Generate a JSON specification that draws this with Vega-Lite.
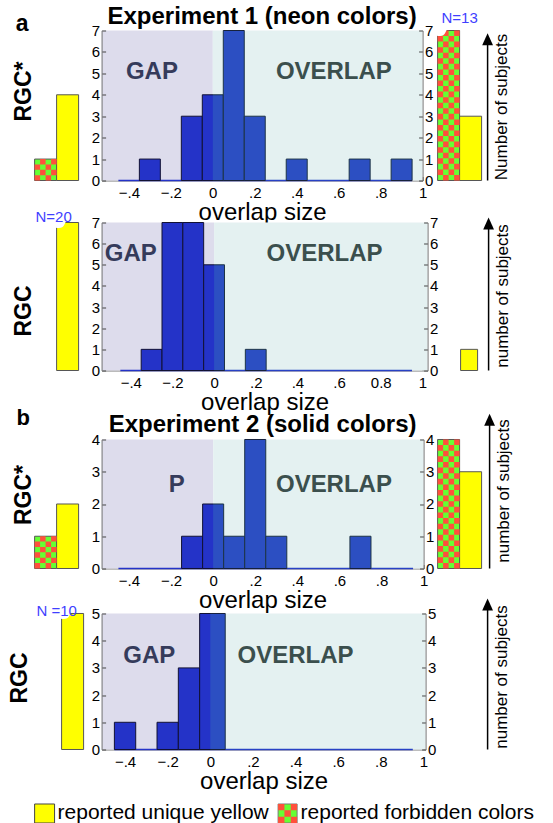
{
  "$schema": "https://vega.github.io/schema/vega-lite/v6.json",
  "padding": {"left": 8.6, "top": 4.5, "right": 0, "bottom": 0},
  "bounds": "flush",
  "align": "each",
  "columns": 3,
  "spacing": {"row": 42, "column": 0},
  "config": {
    "font": "Liberation Sans",
    "view": {"stroke": null},
    "axis": {"grid": false, "labelFlush": false, "labelOverlap": false, "labelFont": "Liberation Sans", "titleFont": "Liberation Sans", "labelColor": "#000", "titleColor": "#000"},
    "axisX": {"values": [-0.4, -0.2, 0, 0.2, 0.4, 0.6, 0.8, 1], "labelExpr": "datum.value == 0 ? '0' : datum.value == 1 ? '1' : replace(format(datum.value, '.1f'), '0.', '.')", "labelFontSize": 15, "tickSize": -4, "labelPadding": 9, "tickColor": "#444", "domainColor": "#777", "titleFontSize": 24, "titleFontWeight": "normal", "titlePadding": 0, "zindex": 1},
    "title": {"font": "Liberation Sans", "fontSize": 24, "fontWeight": "bold", "color": "#000"}
  },
  "concat": [
    {
      "width": 67, "height": 150,
      "resolve": {"axis": {"y": "independent"}},
      "data": {"values": [{"report": "forbidden colors", "subjects": 1}, {"report": "unique yellow", "subjects": 4}]},
      "layer": [
        {"mark": {"type": "bar", "stroke": "#555", "strokeWidth": 1},
         "encoding": {
           "x": {"field": "report", "type": "nominal", "scale": {"domain": ["forbidden colors", "unique yellow"], "range": [0, 44], "paddingInner": 0, "paddingOuter": 0}, "axis": null},
           "y": {"field": "subjects", "type": "quantitative", "scale": {"domain": [0, 7], "nice": false}, "axis": {"orient": "left", "title": "RGC*", "titleFontSize": 23, "titleFontWeight": "bold", "domain": false, "ticks": false, "labels": false, "titleX": -4, "titleY": 60.5, "titleBaseline": "alphabetic", "titleAngle": 270, "titleAlign": "center"}},
           "color": {"field": "report", "type": "nominal", "scale": {"domain": ["forbidden colors", "unique yellow"], "range": ["#66FF33", "#FFFF00"]}, "legend": null}}},
        {"transform": [{"filter": "datum.report == 'forbidden colors'"}],
         "mark": {"type": "point", "shape": "M-1,0h1v0.975h-1zM1,0h1v0.975h-1zM-2,0.975h1v0.975h-1zM0,0.975h1v0.975h-1zM-1,1.95h1v0.975h-1zM1,1.95h1v0.975h-1zM-2,2.925h1v0.975h-1zM0,2.925h1v0.975h-1z", "size": 121, "filled": true, "color": "#FF503C", "opacity": 1},
         "encoding": {"x": {"field": "report", "type": "nominal", "axis": null}, "y": {"field": "subjects", "type": "quantitative", "axis": null}}},
        {"data": {"values": [{}]},
         "mark": {"type": "text", "text": "a", "fontSize": 23, "fontWeight": "bold", "baseline": "alphabetic", "dx": -23.5, "color": "#000"},
         "encoding": {"x": {"datum": "forbidden colors", "type": "nominal", "axis": null}, "y": {"datum": 7, "type": "quantitative", "axis": null}}}
      ]
    },
    {
      "width": 321, "height": 150,
      "title": {"text": "Experiment 1 (neon colors)", "frame": "group", "offset": -5.5, "anchor": "middle"},
      "resolve": {"axis": {"x": "independent", "y": "independent"}},
      "layer": [
        {"data": {"values": [{}]}, "mark": {"type": "rect", "fill": "#DDDCEC"},
         "encoding": {
           "x": {"datum": -0.53, "type": "quantitative", "scale": {"domain": [-0.53, 1.0], "nice": false, "zero": false}, "axis": {"title": "overlap size"}},
           "x2": {"datum": 0},
           "y": {"datum": 0, "type": "quantitative", "scale": {"domain": [0, 7], "nice": false}, "axis": {"orient": "left", "values": [0, 1, 2, 3, 4, 5, 6, 7], "labelFontSize": 15, "tickSize": -4, "labelPadding": 6, "tickColor": "#444", "domainColor": "#777", "title": null, "zindex": 1}},
           "y2": {"datum": 7}}},
        {"data": {"values": [{}]}, "mark": {"type": "rect", "fill": "#FFF4FF"},
         "encoding": {"x": {"datum": 0, "type": "quantitative", "axis": null}, "x2": {"datum": 1.0}, "y": {"datum": 0, "type": "quantitative", "axis": null}, "y2": {"datum": 7}}},
        {"data": {"values": [{}]}, "mark": {"type": "rule", "color": "#2433C8", "strokeWidth": 1.5},
         "encoding": {"x": {"datum": -0.45, "type": "quantitative", "axis": null}, "x2": {"datum": 0.95}, "y": {"datum": 0, "type": "quantitative", "axis": null}}},
        {"data": {"values": [
           {"bin_start": -0.35, "bin_end": -0.25, "subjects": 1},
           {"bin_start": -0.15, "bin_end": -0.05, "subjects": 3},
           {"bin_start": -0.05, "bin_end": 0.05, "subjects": 4},
           {"bin_start": 0.05, "bin_end": 0.15, "subjects": 7},
           {"bin_start": 0.15, "bin_end": 0.25, "subjects": 3},
           {"bin_start": 0.35, "bin_end": 0.45, "subjects": 1},
           {"bin_start": 0.65, "bin_end": 0.75, "subjects": 1},
           {"bin_start": 0.85, "bin_end": 0.95, "subjects": 1}]},
         "mark": {"type": "rect", "fill": "#2433C8", "stroke": "#111133", "strokeWidth": 1},
         "encoding": {"x": {"field": "bin_start", "type": "quantitative", "axis": null}, "x2": {"field": "bin_end"}, "y": {"field": "subjects", "type": "quantitative", "axis": null}, "y2": {"datum": 0}}},
        {"data": {"values": [{}]}, "mark": {"type": "rect", "fill": "#56E8A5", "opacity": 0.16},
         "encoding": {"x": {"datum": 0, "type": "quantitative", "axis": null}, "x2": {"datum": 1.0},
           "y": {"datum": 0, "type": "quantitative", "axis": {"orient": "right", "values": [0, 1, 2, 3, 4, 5, 6, 7], "labelFontSize": 15, "tickSize": -4, "labelPadding": 6, "tickColor": "#444", "domainColor": "#777", "title": null, "zindex": 1}},
           "y2": {"datum": 7}}},
        {"data": {"values": [{}]}, "mark": {"type": "text", "text": "GAP", "fontSize": 24, "fontWeight": "bold", "color": "#353B5B"},
         "encoding": {"x": {"datum": -0.29, "type": "quantitative", "axis": null}, "y": {"datum": 5.05, "type": "quantitative", "axis": null}}},
        {"data": {"values": [{}]}, "mark": {"type": "text", "text": "OVERLAP", "fontSize": 24, "fontWeight": "bold", "color": "#3B4F4D"},
         "encoding": {"x": {"datum": 0.577, "type": "quantitative", "axis": null}, "y": {"datum": 5.05, "type": "quantitative", "axis": null}}}
      ]
    },
    {
      "width": 60, "height": 150,
      "resolve": {"axis": {"y": "independent"}},
      "data": {"values": [{"report": "forbidden colors", "subjects": 7}, {"report": "unique yellow", "subjects": 3}]},
      "layer": [
        {"mark": {"type": "bar", "stroke": "#555", "strokeWidth": 1},
         "encoding": {
           "x": {"field": "report", "type": "nominal", "scale": {"domain": ["forbidden colors", "unique yellow"], "range": [10, 54], "paddingInner": 0, "paddingOuter": 0}, "axis": null},
           "y": {"field": "subjects", "type": "quantitative", "scale": {"domain": [0, 7], "nice": false}, "axis": {"orient": "right", "title": "Number of subjects", "titleFontSize": 17, "titleFontWeight": "normal", "titleAngle": 270, "titleBaseline": "top", "titleAlign": "center", "titleX": 6, "titleY": 76, "domain": false, "ticks": false, "labels": false}},
           "color": {"field": "report", "type": "nominal", "scale": {"domain": ["forbidden colors", "unique yellow"], "range": ["#66FF33", "#FFFF00"]}, "legend": null}}},
        {"transform": [{"filter": "datum.report == 'forbidden colors'"}],
         "mark": {"type": "point", "shape": "M-1,0h1v1.01h-1zM1,0h1v1.01h-1zM-2,1.01h1v1.01h-1zM0,1.01h1v1.01h-1zM-1,2.02h1v1.01h-1zM1,2.02h1v1.01h-1zM-2,3.03h1v1.01h-1zM0,3.03h1v1.01h-1zM-1,4.04h1v1.01h-1zM1,4.04h1v1.01h-1zM-2,5.05h1v1.01h-1zM0,5.05h1v1.01h-1zM-1,6.06h1v1.01h-1zM1,6.06h1v1.01h-1zM-2,7.07h1v1.01h-1zM0,7.07h1v1.01h-1zM-1,8.08h1v1.01h-1zM1,8.08h1v1.01h-1zM-2,9.09h1v1.01h-1zM0,9.09h1v1.01h-1zM-1,10.1h1v1.01h-1zM1,10.1h1v1.01h-1zM-2,11.11h1v1.01h-1zM0,11.11h1v1.01h-1zM-1,12.12h1v1.01h-1zM1,12.12h1v1.01h-1zM-2,13.13h1v1.01h-1zM0,13.13h1v1.01h-1zM-1,14.14h1v1.01h-1zM1,14.14h1v1.01h-1zM-2,15.15h1v1.01h-1zM0,15.15h1v1.01h-1zM-1,16.16h1v1.01h-1zM1,16.16h1v1.01h-1zM-2,17.17h1v1.01h-1zM0,17.17h1v1.01h-1zM-1,18.18h1v1.01h-1zM1,18.18h1v1.01h-1zM-2,19.19h1v1.01h-1zM0,19.19h1v1.01h-1zM-1,20.2h1v1.01h-1zM1,20.2h1v1.01h-1zM-2,21.21h1v1.01h-1zM0,21.21h1v1.01h-1zM-1,22.22h1v1.01h-1zM1,22.22h1v1.01h-1zM-2,23.23h1v1.01h-1zM0,23.23h1v1.01h-1zM-1,24.24h1v1.01h-1zM1,24.24h1v1.01h-1zM-2,25.25h1v1.01h-1zM0,25.25h1v1.01h-1zM-1,26.26h1v1.01h-1zM1,26.26h1v1.01h-1z", "size": 121, "filled": true, "color": "#FF503C", "opacity": 1},
         "encoding": {"x": {"field": "report", "type": "nominal", "axis": null}, "y": {"field": "subjects", "type": "quantitative", "axis": null}}},
        {"data": {"values": [{}]},
         "mark": {"type": "point", "shape": "M-1.15,-0.2L-1.15,0.45C-0.7,0.55-0.45,0.5-0.3,0.2C-0.2,0-0.15,-0.1-0.05,-0.2Z", "size": 484, "filled": true, "color": "#FFFFFF", "opacity": 1},
         "encoding": {"x": {"datum": "forbidden colors", "type": "nominal", "axis": null}, "y": {"datum": 7, "type": "quantitative", "axis": null}}},
        {"data": {"values": [{}]},
         "mark": {"type": "text", "text": "N=13", "fontSize": 15, "color": "#3F3FFF", "dx": 11, "dy": -13},
         "encoding": {"x": {"datum": "forbidden colors", "type": "nominal", "axis": null}, "y": {"datum": 7, "type": "quantitative", "axis": null}}},
        {"data": {"values": [{}]}, "mark": {"type": "rule", "color": "#000", "strokeWidth": 1.5},
         "encoding": {"x": {"value": "width"}, "y": {"datum": 0, "type": "quantitative", "axis": null}, "y2": {"datum": 6.6}}},
        {"data": {"values": [{}]}, "mark": {"type": "point", "shape": "M0,0L0.9,2L-0.9,2Z", "size": 144, "filled": true, "color": "#000", "opacity": 1},
         "encoding": {"x": {"value": "width"}, "y": {"datum": 6.87, "type": "quantitative", "axis": null}}}
      ]
    },
    {
      "width": 67, "height": 148,
      "resolve": {"axis": {"y": "independent"}},
      "data": {"values": [{"report": "unique yellow", "subjects": 7}]},
      "layer": [
        {"mark": {"type": "bar", "stroke": "#555", "strokeWidth": 1},
         "encoding": {
           "x": {"field": "report", "type": "nominal", "scale": {"domain": ["forbidden colors", "unique yellow"], "range": [0, 44], "paddingInner": 0, "paddingOuter": 0}, "axis": null},
           "y": {"field": "subjects", "type": "quantitative", "scale": {"domain": [0, 7], "nice": false}, "axis": {"orient": "left", "title": "RGC", "titleFontSize": 23, "titleFontWeight": "bold", "domain": false, "ticks": false, "labels": false, "titleX": -4, "titleY": 88, "titleBaseline": "alphabetic", "titleAngle": 270, "titleAlign": "center"}},
           "color": {"field": "report", "type": "nominal", "scale": {"domain": ["forbidden colors", "unique yellow"], "range": ["#66FF33", "#FFFF00"]}, "legend": null}}},
        {"data": {"values": [{}]},
         "mark": {"type": "point", "shape": "M-1.15,-0.2L-1.15,0.45C-0.7,0.55-0.45,0.5-0.3,0.2C-0.2,0-0.15,-0.1-0.05,-0.2Z", "size": 484, "filled": true, "color": "#FFFFFF", "opacity": 1},
         "encoding": {"x": {"datum": "unique yellow", "type": "nominal", "axis": null}, "y": {"datum": 7, "type": "quantitative", "axis": null}}},
        {"data": {"values": [{}]},
         "mark": {"type": "text", "text": "N=20", "fontSize": 15, "color": "#3F3FFF", "dx": -14, "dy": -6},
         "encoding": {"x": {"datum": "unique yellow", "type": "nominal", "axis": null}, "y": {"datum": 7, "type": "quantitative", "axis": null}}}
      ]
    },
    {
      "width": 326, "height": 148,
      "resolve": {"axis": {"x": "independent", "y": "independent"}},
      "layer": [
        {"data": {"values": [{}]}, "mark": {"type": "rect", "fill": "#DDDCEC"},
         "encoding": {
           "x": {"datum": -0.54, "type": "quantitative", "scale": {"domain": [-0.54, 1.025], "nice": false, "zero": false}, "axis": {"title": "overlap size", "labelExpr": "datum.value == 0 ? '0' : datum.value == 1 ? '1' : datum.value == 0.8 ? '0.8' : replace(format(datum.value, '.1f'), '0.', '.')"}},
           "x2": {"datum": 0},
           "y": {"datum": 0, "type": "quantitative", "scale": {"domain": [0, 7], "nice": false}, "axis": {"orient": "left", "values": [0, 1, 2, 3, 4, 5, 6, 7], "labelFontSize": 15, "tickSize": -4, "labelPadding": 6, "tickColor": "#444", "domainColor": "#777", "title": null, "zindex": 1}},
           "y2": {"datum": 7}}},
        {"data": {"values": [{}]}, "mark": {"type": "rect", "fill": "#FFF4FF"},
         "encoding": {"x": {"datum": 0, "type": "quantitative", "axis": null}, "x2": {"datum": 1.025}, "y": {"datum": 0, "type": "quantitative", "axis": null}, "y2": {"datum": 7}}},
        {"data": {"values": [{}]}, "mark": {"type": "rule", "color": "#2433C8", "strokeWidth": 1.5},
         "encoding": {"x": {"datum": -0.45, "type": "quantitative", "axis": null}, "x2": {"datum": 0.95}, "y": {"datum": 0, "type": "quantitative", "axis": null}}},
        {"data": {"values": [
           {"bin_start": -0.35, "bin_end": -0.25, "subjects": 1},
           {"bin_start": -0.25, "bin_end": -0.15, "subjects": 7},
           {"bin_start": -0.15, "bin_end": -0.05, "subjects": 7},
           {"bin_start": -0.05, "bin_end": 0.05, "subjects": 5},
           {"bin_start": 0.15, "bin_end": 0.25, "subjects": 1}]},
         "mark": {"type": "rect", "fill": "#2433C8", "stroke": "#111133", "strokeWidth": 1},
         "encoding": {"x": {"field": "bin_start", "type": "quantitative", "axis": null}, "x2": {"field": "bin_end"}, "y": {"field": "subjects", "type": "quantitative", "axis": null}, "y2": {"datum": 0}}},
        {"data": {"values": [{}]}, "mark": {"type": "rect", "fill": "#56E8A5", "opacity": 0.16},
         "encoding": {"x": {"datum": 0, "type": "quantitative", "axis": null}, "x2": {"datum": 1.025},
           "y": {"datum": 0, "type": "quantitative", "axis": {"orient": "right", "values": [0, 1, 2, 3, 4, 5, 6, 7], "labelFontSize": 15, "tickSize": -4, "labelPadding": 6, "tickColor": "#444", "domainColor": "#777", "title": null, "zindex": 1}},
           "y2": {"datum": 7}}},
        {"data": {"values": [{}]}, "mark": {"type": "text", "text": "GAP", "fontSize": 24, "fontWeight": "bold", "color": "#353B5B"},
         "encoding": {"x": {"datum": -0.4, "type": "quantitative", "axis": null}, "y": {"datum": 5.49, "type": "quantitative", "axis": null}}},
        {"data": {"values": [{}]}, "mark": {"type": "text", "text": "OVERLAP", "fontSize": 24, "fontWeight": "bold", "color": "#3B4F4D"},
         "encoding": {"x": {"datum": 0.53, "type": "quantitative", "axis": null}, "y": {"datum": 5.49, "type": "quantitative", "axis": null}}}
      ]
    },
    {
      "width": 61, "height": 148,
      "resolve": {"axis": {"y": "independent"}},
      "data": {"values": [{"report": "unique yellow", "subjects": 1}]},
      "layer": [
        {"mark": {"type": "bar", "stroke": "#555", "strokeWidth": 1},
         "encoding": {
           "x": {"field": "report", "type": "nominal", "scale": {"domain": ["forbidden colors", "unique yellow"], "range": [16, 50], "paddingInner": 0, "paddingOuter": 0}, "axis": null},
           "y": {"field": "subjects", "type": "quantitative", "scale": {"domain": [0, 7], "nice": false}, "axis": {"orient": "right", "title": "number of subjects", "titleFontSize": 17, "titleFontWeight": "normal", "titleAngle": 270, "titleBaseline": "top", "titleAlign": "center", "titleX": 6, "titleY": 73, "domain": false, "ticks": false, "labels": false}},
           "color": {"field": "report", "type": "nominal", "scale": {"domain": ["forbidden colors", "unique yellow"], "range": ["#66FF33", "#FFFF00"]}, "legend": null}}},
        {"data": {"values": [{}]}, "mark": {"type": "rule", "color": "#000", "strokeWidth": 1.5},
         "encoding": {"x": {"value": "width"}, "y": {"datum": 0, "type": "quantitative", "axis": null}, "y2": {"datum": 7.0}}},
        {"data": {"values": [{}]}, "mark": {"type": "point", "shape": "M0,0L0.9,2L-0.9,2Z", "size": 144, "filled": true, "color": "#000", "opacity": 1},
         "encoding": {"x": {"value": "width"}, "y": {"datum": 7.24, "type": "quantitative", "axis": null}}}
      ]
    },
    {
      "width": 67, "height": 156,
      "resolve": {"axis": {"y": "independent"}},
      "data": {"values": [{"report": "forbidden colors", "subjects": 1}, {"report": "unique yellow", "subjects": 2}]},
      "layer": [
        {"mark": {"type": "bar", "stroke": "#555", "strokeWidth": 1},
         "encoding": {
           "x": {"field": "report", "type": "nominal", "scale": {"domain": ["forbidden colors", "unique yellow"], "range": [0, 44], "paddingInner": 0, "paddingOuter": 0}, "axis": null},
           "y": {"field": "subjects", "type": "quantitative", "scale": {"domain": [0, 4], "nice": false, "range": [156, 27]}, "axis": {"orient": "left", "title": "RGC*", "titleFontSize": 23, "titleFontWeight": "bold", "domain": false, "ticks": false, "labels": false, "titleX": -4, "titleY": 82, "titleBaseline": "alphabetic", "titleAngle": 270, "titleAlign": "center"}},
           "color": {"field": "report", "type": "nominal", "scale": {"domain": ["forbidden colors", "unique yellow"], "range": ["#66FF33", "#FFFF00"]}, "legend": null}}},
        {"transform": [{"filter": "datum.report == 'forbidden colors'"}],
         "mark": {"type": "point", "shape": "M-1,0h1v0.977h-1zM1,0h1v0.977h-1zM-2,0.977h1v0.977h-1zM0,0.977h1v0.977h-1zM-1,1.954h1v0.977h-1zM1,1.954h1v0.977h-1zM-2,2.931h1v0.977h-1zM0,2.931h1v0.977h-1zM-1,3.908h1v0.977h-1zM1,3.908h1v0.977h-1zM-2,4.885h1v0.977h-1zM0,4.885h1v0.977h-1z", "size": 121, "filled": true, "color": "#FF503C", "opacity": 1},
         "encoding": {"x": {"field": "report", "type": "nominal", "axis": null}, "y": {"field": "subjects", "type": "quantitative", "axis": null}}},
        {"data": {"values": [{}]},
         "mark": {"type": "text", "text": "b", "fontSize": 22, "fontWeight": "bold", "baseline": "alphabetic", "dx": -22.5, "dy": -14, "color": "#000"},
         "encoding": {"x": {"datum": "forbidden colors", "type": "nominal", "axis": null}, "y": {"datum": 4, "type": "quantitative", "axis": null}}}
      ]
    },
    {
      "width": 322, "height": 156,
      "title": {"text": "Experiment 2 (solid colors)", "frame": "group", "offset": 5, "dy": 30, "anchor": "middle"},
      "resolve": {"axis": {"x": "independent", "y": "independent"}},
      "layer": [
        {"data": {"values": [{}]}, "mark": {"type": "rect", "fill": "#DDDCEC"},
         "encoding": {
           "x": {"datum": -0.53, "type": "quantitative", "scale": {"domain": [-0.53, 1.0], "nice": false, "zero": false}, "axis": {"title": "overlap size"}},
           "x2": {"datum": 0},
           "y": {"datum": 0, "type": "quantitative", "scale": {"domain": [0, 4], "nice": false, "range": [156, 27]}, "axis": {"orient": "left", "values": [0, 1, 2, 3, 4], "labelFontSize": 15, "tickSize": -4, "labelPadding": 6, "tickColor": "#444", "domainColor": "#777", "title": null, "zindex": 1}},
           "y2": {"datum": 4}}},
        {"data": {"values": [{}]}, "mark": {"type": "rect", "fill": "#FFF4FF"},
         "encoding": {"x": {"datum": 0, "type": "quantitative", "axis": null}, "x2": {"datum": 1.0}, "y": {"datum": 0, "type": "quantitative", "axis": null}, "y2": {"datum": 4}}},
        {"data": {"values": [{}]}, "mark": {"type": "rule", "color": "#2433C8", "strokeWidth": 1.5},
         "encoding": {"x": {"datum": -0.45, "type": "quantitative", "axis": null}, "x2": {"datum": 0.95}, "y": {"datum": 0, "type": "quantitative", "axis": null}}},
        {"data": {"values": [
           {"bin_start": -0.15, "bin_end": -0.05, "subjects": 1},
           {"bin_start": -0.05, "bin_end": 0.05, "subjects": 2},
           {"bin_start": 0.05, "bin_end": 0.15, "subjects": 1},
           {"bin_start": 0.15, "bin_end": 0.25, "subjects": 4},
           {"bin_start": 0.25, "bin_end": 0.35, "subjects": 1},
           {"bin_start": 0.65, "bin_end": 0.75, "subjects": 1}]},
         "mark": {"type": "rect", "fill": "#2433C8", "stroke": "#111133", "strokeWidth": 1},
         "encoding": {"x": {"field": "bin_start", "type": "quantitative", "axis": null}, "x2": {"field": "bin_end"}, "y": {"field": "subjects", "type": "quantitative", "axis": null}, "y2": {"datum": 0}}},
        {"data": {"values": [{}]}, "mark": {"type": "rect", "fill": "#56E8A5", "opacity": 0.16},
         "encoding": {"x": {"datum": 0, "type": "quantitative", "axis": null}, "x2": {"datum": 1.0},
           "y": {"datum": 0, "type": "quantitative", "axis": {"orient": "right", "values": [0, 1, 2, 3, 4], "labelFontSize": 15, "tickSize": -4, "labelPadding": 6, "tickColor": "#444", "domainColor": "#777", "title": null, "zindex": 1}},
           "y2": {"datum": 4}}},
        {"data": {"values": [{}]}, "mark": {"type": "text", "text": "P", "fontSize": 24, "fontWeight": "bold", "color": "#353B5B"},
         "encoding": {"x": {"datum": -0.173, "type": "quantitative", "axis": null}, "y": {"datum": 2.6, "type": "quantitative", "axis": null}}},
        {"data": {"values": [{}]}, "mark": {"type": "text", "text": "OVERLAP", "fontSize": 24, "fontWeight": "bold", "color": "#3B4F4D"},
         "encoding": {"x": {"datum": 0.574, "type": "quantitative", "axis": null}, "y": {"datum": 2.6, "type": "quantitative", "axis": null}}}
      ]
    },
    {
      "width": 62, "height": 156,
      "resolve": {"axis": {"y": "independent"}},
      "data": {"values": [{"report": "forbidden colors", "subjects": 4}, {"report": "unique yellow", "subjects": 3}]},
      "layer": [
        {"mark": {"type": "bar", "stroke": "#555", "strokeWidth": 1},
         "encoding": {
           "x": {"field": "report", "type": "nominal", "scale": {"domain": ["forbidden colors", "unique yellow"], "range": [10, 54], "paddingInner": 0, "paddingOuter": 0}, "axis": null},
           "y": {"field": "subjects", "type": "quantitative", "scale": {"domain": [0, 4], "nice": false, "range": [156, 27]}, "axis": {"orient": "right", "title": "number of subjects", "titleFontSize": 17, "titleFontWeight": "normal", "titleAngle": 270, "titleBaseline": "top", "titleAlign": "center", "titleX": 6, "titleY": 78, "domain": false, "ticks": false, "labels": false}},
           "color": {"field": "report", "type": "nominal", "scale": {"domain": ["forbidden colors", "unique yellow"], "range": ["#66FF33", "#FFFF00"]}, "legend": null}}},
        {"transform": [{"filter": "datum.report == 'forbidden colors'"}],
         "mark": {"type": "point", "shape": "M-1,0h1v1.02h-1zM1,0h1v1.02h-1zM-2,1.02h1v1.02h-1zM0,1.02h1v1.02h-1zM-1,2.04h1v1.02h-1zM1,2.04h1v1.02h-1zM-2,3.06h1v1.02h-1zM0,3.06h1v1.02h-1zM-1,4.08h1v1.02h-1zM1,4.08h1v1.02h-1zM-2,5.1h1v1.02h-1zM0,5.1h1v1.02h-1zM-1,6.12h1v1.02h-1zM1,6.12h1v1.02h-1zM-2,7.14h1v1.02h-1zM0,7.14h1v1.02h-1zM-1,8.16h1v1.02h-1zM1,8.16h1v1.02h-1zM-2,9.18h1v1.02h-1zM0,9.18h1v1.02h-1zM-1,10.2h1v1.02h-1zM1,10.2h1v1.02h-1zM-2,11.22h1v1.02h-1zM0,11.22h1v1.02h-1zM-1,12.24h1v1.02h-1zM1,12.24h1v1.02h-1zM-2,13.26h1v1.02h-1zM0,13.26h1v1.02h-1zM-1,14.28h1v1.02h-1zM1,14.28h1v1.02h-1zM-2,15.3h1v1.02h-1zM0,15.3h1v1.02h-1zM-1,16.32h1v1.02h-1zM1,16.32h1v1.02h-1zM-2,17.34h1v1.02h-1zM0,17.34h1v1.02h-1zM-1,18.36h1v1.02h-1zM1,18.36h1v1.02h-1zM-2,19.38h1v1.02h-1zM0,19.38h1v1.02h-1zM-1,20.4h1v1.02h-1zM1,20.4h1v1.02h-1zM-2,21.42h1v1.02h-1zM0,21.42h1v1.02h-1zM-1,22.44h1v1.02h-1zM1,22.44h1v1.02h-1z", "size": 121, "filled": true, "color": "#FF503C", "opacity": 1},
         "encoding": {"x": {"field": "report", "type": "nominal", "axis": null}, "y": {"field": "subjects", "type": "quantitative", "axis": null}}},
        {"data": {"values": [{}]}, "mark": {"type": "rule", "color": "#000", "strokeWidth": 1.5},
         "encoding": {"x": {"value": "width"}, "y": {"datum": 0, "type": "quantitative", "axis": null}, "y2": {"datum": 4.6}}},
        {"data": {"values": [{}]}, "mark": {"type": "point", "shape": "M0,0L0.9,2L-0.9,2Z", "size": 144, "filled": true, "color": "#000", "opacity": 1},
         "encoding": {"x": {"value": "width"}, "y": {"datum": 4.8, "type": "quantitative", "axis": null}}}
      ]
    },
    {
      "width": 67, "height": 139,
      "resolve": {"axis": {"y": "independent"}},
      "data": {"values": [{"report": "unique yellow", "subjects": 5}]},
      "layer": [
        {"mark": {"type": "bar", "stroke": "#555", "strokeWidth": 1},
         "encoding": {
           "x": {"field": "report", "type": "nominal", "scale": {"domain": ["forbidden colors", "unique yellow"], "range": [5, 49], "paddingInner": 0, "paddingOuter": 0}, "axis": null},
           "y": {"field": "subjects", "type": "quantitative", "scale": {"domain": [0, 5], "nice": false, "range": [139, 3]}, "axis": {"orient": "left", "title": "RGC", "titleFontSize": 23, "titleFontWeight": "bold", "domain": false, "ticks": false, "labels": false, "titleX": -8, "titleY": 67, "titleBaseline": "alphabetic", "titleAngle": 270, "titleAlign": "center"}},
           "color": {"field": "report", "type": "nominal", "scale": {"domain": ["forbidden colors", "unique yellow"], "range": ["#66FF33", "#FFFF00"]}, "legend": null}}},
        {"data": {"values": [{}]},
         "mark": {"type": "point", "shape": "M-1.15,-0.2L-1.15,0.45C-0.7,0.55-0.45,0.5-0.3,0.2C-0.2,0-0.15,-0.1-0.05,-0.2Z", "size": 484, "filled": true, "color": "#FFFFFF", "opacity": 1},
         "encoding": {"x": {"datum": "unique yellow", "type": "nominal", "axis": null}, "y": {"datum": 5, "type": "quantitative", "axis": null}}},
        {"data": {"values": [{}]},
         "mark": {"type": "text", "text": "N =10", "fontSize": 15, "color": "#3F3FFF", "dx": -16, "dy": -2},
         "encoding": {"x": {"datum": "unique yellow", "type": "nominal", "axis": null}, "y": {"datum": 5, "type": "quantitative", "axis": null}}}
      ]
    },
    {
      "width": 324, "height": 139,
      "resolve": {"axis": {"x": "independent", "y": "independent"}},
      "layer": [
        {"data": {"values": [{}]}, "mark": {"type": "rect", "fill": "#DDDCEC"},
         "encoding": {
           "x": {"datum": -0.51, "type": "quantitative", "scale": {"domain": [-0.51, 1.01], "nice": false, "zero": false}, "axis": {"title": "overlap size"}},
           "x2": {"datum": 0},
           "y": {"datum": 0, "type": "quantitative", "scale": {"domain": [0, 5], "nice": false, "range": [139, 3]}, "axis": {"orient": "left", "values": [0, 1, 2, 3, 4, 5], "labelFontSize": 15, "tickSize": -4, "labelPadding": 6, "tickColor": "#444", "domainColor": "#777", "title": null, "zindex": 1}},
           "y2": {"datum": 5}}},
        {"data": {"values": [{}]}, "mark": {"type": "rect", "fill": "#FFF4FF"},
         "encoding": {"x": {"datum": 0, "type": "quantitative", "axis": null}, "x2": {"datum": 1.01}, "y": {"datum": 0, "type": "quantitative", "axis": null}, "y2": {"datum": 5}}},
        {"data": {"values": [{}]}, "mark": {"type": "rule", "color": "#2433C8", "strokeWidth": 1.5},
         "encoding": {"x": {"datum": -0.45, "type": "quantitative", "axis": null}, "x2": {"datum": 0.95}, "y": {"datum": 0, "type": "quantitative", "axis": null}}},
        {"data": {"values": [
           {"bin_start": -0.45, "bin_end": -0.35, "subjects": 1},
           {"bin_start": -0.25, "bin_end": -0.15, "subjects": 1},
           {"bin_start": -0.15, "bin_end": -0.05, "subjects": 3},
           {"bin_start": -0.05, "bin_end": 0.07, "subjects": 5}]},
         "mark": {"type": "rect", "fill": "#2433C8", "stroke": "#111133", "strokeWidth": 1},
         "encoding": {"x": {"field": "bin_start", "type": "quantitative", "axis": null}, "x2": {"field": "bin_end"}, "y": {"field": "subjects", "type": "quantitative", "axis": null}, "y2": {"datum": 0}}},
        {"data": {"values": [{}]}, "mark": {"type": "rect", "fill": "#56E8A5", "opacity": 0.16},
         "encoding": {"x": {"datum": 0, "type": "quantitative", "axis": null}, "x2": {"datum": 1.01},
           "y": {"datum": 0, "type": "quantitative", "axis": {"orient": "right", "values": [0, 1, 2, 3, 4, 5], "labelFontSize": 15, "tickSize": -4, "labelPadding": 6, "tickColor": "#444", "domainColor": "#777", "title": null, "zindex": 1}},
           "y2": {"datum": 5}}},
        {"data": {"values": [{}]}, "mark": {"type": "text", "text": "GAP", "fontSize": 24, "fontWeight": "bold", "color": "#353B5B"},
         "encoding": {"x": {"datum": -0.286, "type": "quantitative", "axis": null}, "y": {"datum": 3.42, "type": "quantitative", "axis": null}}},
        {"data": {"values": [{}]}, "mark": {"type": "text", "text": "OVERLAP", "fontSize": 24, "fontWeight": "bold", "color": "#3B4F4D"},
         "encoding": {"x": {"datum": 0.4, "type": "quantitative", "axis": null}, "y": {"datum": 3.42, "type": "quantitative", "axis": null}}}
      ]
    },
    {
      "width": 60, "height": 139,
      "resolve": {"axis": {"y": "independent"}},
      "layer": [
        {"data": {"values": [{}]}, "mark": {"type": "rule", "color": "#000", "strokeWidth": 1.5},
         "encoding": {"x": {"value": "width"},
           "y": {"datum": 0, "type": "quantitative", "scale": {"domain": [0, 5], "nice": false, "range": [139, 3]}, "axis": {"orient": "right", "title": "number of subjects", "titleFontSize": 17, "titleFontWeight": "normal", "titleAngle": 270, "titleBaseline": "top", "titleAlign": "center", "titleX": 6, "titleY": 66, "domain": false, "ticks": false, "labels": false}},
           "y2": {"datum": 5.3}}},
        {"data": {"values": [{}]}, "mark": {"type": "point", "shape": "M0,0L0.9,2L-0.9,2Z", "size": 144, "filled": true, "color": "#000", "opacity": 1},
         "encoding": {"x": {"value": "width"}, "y": {"datum": 5.55, "type": "quantitative", "axis": null}}}
      ]
    },
    {
      "width": 67, "height": 20,
      "data": {"values": [{"report": "unique yellow", "label": "reported unique yellow"}, {"report": "forbidden colors", "label": "reported forbidden colors"}]},
      "layer": [
        {"transform": [{"filter": "datum.report == 'unique yellow'"}],
         "mark": {"type": "point", "shape": "M-1.05,-1H1.05V1H-1.05Z", "size": 361, "filled": true, "fill": "#FFFF00", "stroke": "#444", "strokeWidth": 1, "opacity": 1, "yOffset": 12},
         "encoding": {"x": {"field": "report", "type": "nominal", "scale": {"type": "point", "domain": ["unique yellow", "forbidden colors"], "range": [10, 253], "padding": 0}, "axis": null}}},
        {"transform": [{"filter": "datum.report == 'forbidden colors'"}],
         "mark": {"type": "point", "shape": "square", "size": 361, "filled": true, "fill": "#66FF33", "stroke": "#777", "strokeWidth": 1, "opacity": 1, "yOffset": 12},
         "encoding": {"x": {"field": "report", "type": "nominal", "axis": null}}},
        {"transform": [{"filter": "datum.report == 'forbidden colors'"}],
         "mark": {"type": "point", "shape": "M-1.5,-1.5h1v1h-1zM0.5,-1.5h1v1h-1zM-0.5,-0.5h1v1h-1zM-1.5,0.5h1v1h-1zM0.5,0.5h1v1h-1z", "size": 160.4, "filled": true, "color": "#FF503C", "opacity": 1, "yOffset": 12},
         "encoding": {"x": {"field": "report", "type": "nominal", "axis": null}}},
        {"mark": {"type": "text", "align": "left", "baseline": "middle", "fontSize": 21, "dx": 13, "yOffset": 12, "color": "#000"},
         "encoding": {"x": {"field": "report", "type": "nominal", "axis": null}, "text": {"field": "label"}}}
      ]
    }
  ]
}
